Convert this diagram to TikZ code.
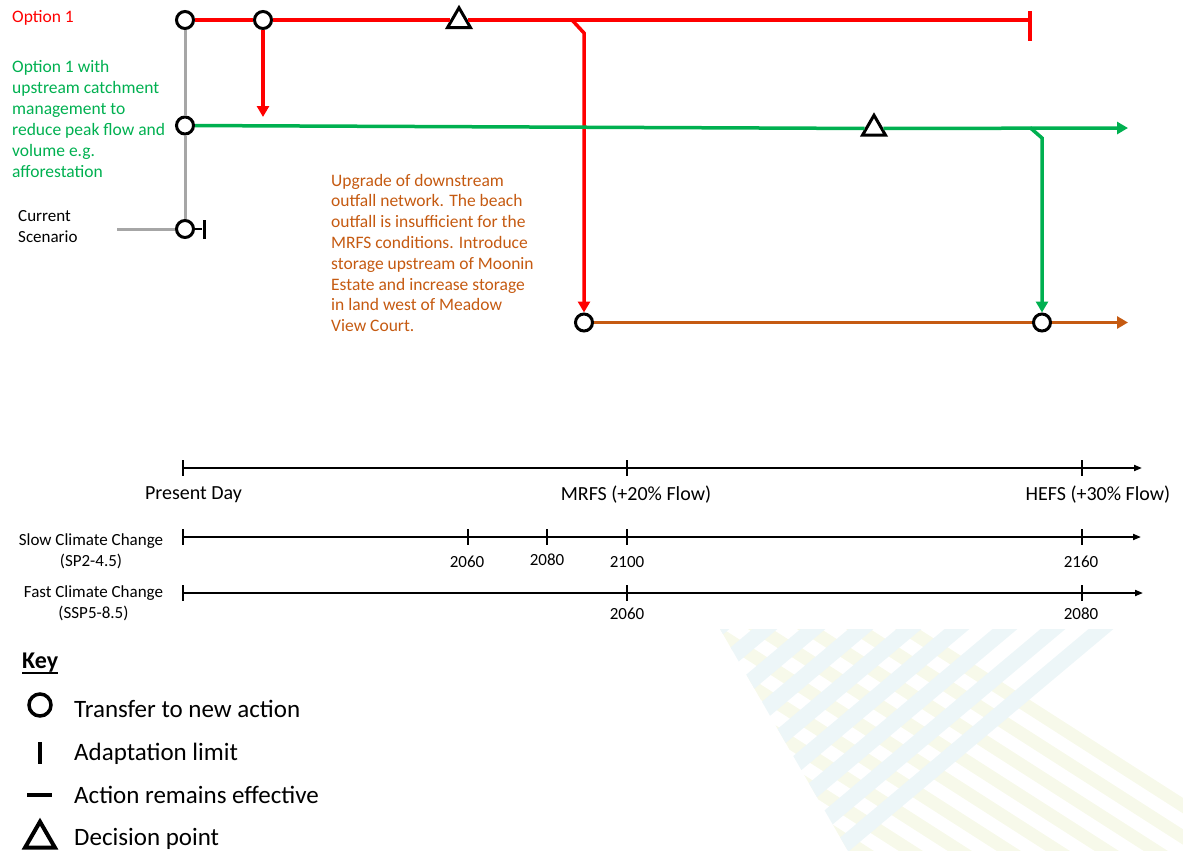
\documentclass[tikz,border=0pt]{standalone}
\usepackage{fontspec}
\setmainfont{Carlito}
\usetikzlibrary{arrows.meta,shapes.geometric,calc}
\definecolor{optred}{RGB}{255,0,0}
\definecolor{optgreen}{RGB}{0,176,80}
\definecolor{optorange}{RGB}{197,90,17}
\definecolor{curgray}{RGB}{166,166,166}
\definecolor{bgblue}{RGB}{237,246,248}
\definecolor{bgyellow}{RGB}{247,249,234}
\begin{document}
\begin{tikzpicture}[x=1pt,y=-1pt,
  tcirc/.style={circle,draw=black,line width=3pt,fill=white,minimum size=17pt,inner sep=0pt},
  dtri/.style={regular polygon,regular polygon sides=3,draw=black,line width=3pt,fill=white,minimum size=26.5pt,inner sep=0pt},
  limbar/.style={rectangle,draw=none,inner sep=0pt},
  rline/.style={draw=optred,line width=3.5pt},
  gline/.style={draw=optgreen,line width=3.5pt},
  oline/.style={draw=optorange,line width=3.5pt},
  grline/.style={draw=curgray,line width=3pt},
  tipr/.style={-{Triangle[length=11pt,width=12pt]}},
  axis/.style={line width=1.8pt,-{Triangle[length=8pt,width=6pt]}},
  tickmark/.style={line width=1.8pt},
  lbl/.style={inner sep=0pt,font=\fontsize{17.5}{21}\selectfont},
  smalllbl/.style={inner sep=0pt,font=\fontsize{17}{21}\selectfont},
  tllbl/.style={inner sep=0pt,font=\fontsize{20}{24}\selectfont},
  keylbl/.style={inner sep=0pt,font=\fontsize{25}{30}\selectfont,anchor=base west}
]
\useasboundingbox (0,0) rectangle (1183,851);

% background watermark
\begin{scope}
\clip (720,629) -- (1183,629) -- (1183,851) -- (848,851) -- cycle;
\foreach \i in {0,...,10} {
  \draw[bgyellow,line width=13pt] ({907-49*\i-300},{629-0.64*300}) -- ({907-49*\i+500},{629+0.64*500});
}
\foreach \i in {0,...,8} {
  \draw[bgblue,line width=16pt] ({1101-48*\i+0.766*100},{629-0.643*100}) -- ({1101-48*\i-0.766*450},{629+0.643*450});
}
\end{scope}

% nodes of the pathway map
\node[tcirc] (o1a) at (185,20) {};
\node[tcirc] (o1b) at (263,20) {};
\node[dtri] (rtri) at (459,21) {};
\node[limbar,fill=optred,minimum width=3.5pt,minimum height=30pt] (rlim) at (1030,26) {};
\node[tcirc] (ogr) at (185,125.5) {};
\node[dtri] (gtri) at (874,128.5) {};
\node[tcirc] (ocur) at (185,229) {};
\node[limbar,fill=black,minimum width=3pt,minimum height=19pt] (curlim) at (204,229) {};
\node[tcirc] (o2a) at (584,322.5) {};
\node[tcirc] (o3b) at (1042,322.5) {};

\coordinate (rlimpt) at (1030,20);
\coordinate (rdn) at (263,117);
\coordinate (rbr) at (572,20);
\coordinate (rbk) at (584,33);
\coordinate (gbr) at (1030,127.6);
\coordinate (gbk) at (1042,138);
\coordinate (gend) at (1128,128);
\coordinate (oend) at (1128,322.5);
\coordinate (curstart) at (117,229);

% connectors
\draw[grline] (o1a) -- (ogr);
\draw[grline] (ogr) -- (ocur);
\draw[grline] (curstart) -- (ocur);
\draw[line width=2.5pt] (ocur) -- (curlim);
\draw[rline] (o1a) -- (o1b);
\draw[rline] (o1b) -- (rtri.west |- o1b);
\draw[rline] (rtri.east |- rlimpt) -- (rlimpt);
\draw[rline,tipr] (o1b) -- (rdn);
\draw[rline,tipr] (rbr) -- (rbk) -- (o2a);
\draw[gline] (ogr) -- (gtri);
\draw[gline,tipr] (gtri) -- (gend);
\draw[gline,tipr] (gbr) -- (gbk) -- (o3b);
\draw[oline] (o2a) -- (o3b);
\draw[oline,tipr] (o3b) -- (oend);

% labels (multi-line nodes: base = last line's baseline)
\node[lbl,text=optred,anchor=base west] (lopt1) at (12,23) {Option 1};
\node[lbl,text=optgreen,anchor=base west,align=left] (lopt1g) at (12,177)
  {Option 1 with\\upstream catchment\\management to\\reduce peak flow and\\volume e.g.\\afforestation};
\node[smalllbl,anchor=base west,align=left] (lcur) at (18,242) {Current\\Scenario};
\node[lbl,text=optorange,anchor=base west,align=left,font=\fontsize{17.5}{20.8}\selectfont] (lupg) at (331,331.6)
  {Upgrade of downstream\\outfall network. The beach\\outfall is insufficient for the\\MRFS conditions. Introduce\\storage upstream of Moonin\\Estate and increase storage\\in land west of Meadow\\View Court.};

% timelines
\coordinate (t1s) at (183,468);
\coordinate (t1e) at (1142,468);
\coordinate (t2s) at (183,537);
\coordinate (t2e) at (1141,537);
\coordinate (t3s) at (183,593);
\coordinate (t3e) at (1143,593);
\draw[axis] (t1s) -- (t1e);
\draw[axis] (t2s) -- (t2e);
\draw[axis] (t3s) -- (t3e);
\foreach \x in {183,627,1082} {\draw[tickmark] (\x,460) -- (\x,476);}
\foreach \x in {183,468,547,627,1082} {\draw[tickmark] (\x,529) -- (\x,545);}
\foreach \x in {183,627,1082} {\draw[tickmark] (\x,585) -- (\x,601);}

\node[tllbl,anchor=base] (lpd) at (193.5,499) {Present Day};
\node[tllbl,anchor=base] (lmrfs) at (636,500) {MRFS (+20\% Flow)};
\node[tllbl,anchor=base] (lhefs) at (1098,500) {HEFS (+30\% Flow)};

\node[smalllbl,anchor=base,align=center] (lslow) at (91,566) {Slow Climate Change\\(SP2-4.5)};
\node[smalllbl,anchor=base,align=center] (lfast) at (93.5,618) {Fast Climate Change\\(SSP5-8.5)};

\node[smalllbl,anchor=base] (y1) at (467,567) {2060};
\node[smalllbl,anchor=base] (y2) at (547,565) {2080};
\node[smalllbl,anchor=base] (y3) at (627,567) {2100};
\node[smalllbl,anchor=base] (y4) at (1081,567) {2160};
\node[smalllbl,anchor=base] (y5) at (627,619) {2060};
\node[smalllbl,anchor=base] (y6) at (1081,619) {2080};

% key
\node[inner sep=0pt,font=\fontsize{24}{28}\selectfont\bfseries,anchor=base west] (lkey) at (22,668) {Key};
\draw[line width=1.6pt] ($(lkey.base west)+(0,5)$) -- ($(lkey.base east)+(0,5)$);
\node[circle,draw=black,line width=3.5pt,minimum size=22pt,inner sep=0pt] (kcirc) at (40,705) {};
\node[limbar,fill=black,minimum width=4pt,minimum height=22pt] (kbar) at (40,753) {};
\node[limbar,fill=black,minimum width=25pt,minimum height=3.5pt] (kdash) at (39.5,795) {};
\node[regular polygon,regular polygon sides=3,draw=black,line width=4pt,minimum size=34.6pt,inner sep=0pt] (ktri) at (40,839) {};
\node[keylbl] (k1) at (74,717) {Transfer to new action};
\node[keylbl] (k2) at (74,760) {Adaptation limit};
\node[keylbl] (k3) at (74,803) {Action remains effective};
\node[keylbl] (k4) at (74,845) {Decision point};
\end{tikzpicture}
\end{document}
